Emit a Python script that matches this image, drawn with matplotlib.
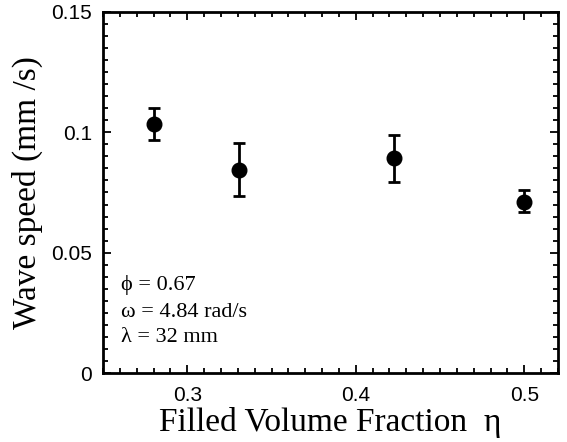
import matplotlib
matplotlib.use("Agg")
import matplotlib.pyplot as plt
from matplotlib.ticker import MultipleLocator

# filled volume fraction and measured wave speed
eta = [0.280, 0.331, 0.423, 0.500]
speed = [0.1034, 0.0843, 0.0892, 0.0712]
err_lo = [0.0066, 0.0109, 0.0100, 0.0044]
err_hi = [0.0068, 0.0114, 0.0097, 0.0048]

xticks = [0.3, 0.4, 0.5]
yticks = [0, 0.05, 0.1, 0.15]
ytick_labels = ["0", "0.05", "0.1", "0.15"]

serif = ["Liberation Serif", "DejaVu Serif"]
sans = ["Liberation Sans", "DejaVu Sans"]

fig = plt.figure(figsize=(5.67, 4.42), dpi=100)
ax = fig.add_axes([0.1817, 0.156, 0.8023, 0.817])

ax.errorbar(eta, speed, yerr=[err_lo, err_hi], fmt="o", color="black",
            ms=10.5, elinewidth=2, capsize=4.3, capthick=2)

ax.set_xlim(0.25, 0.52)
ax.set_ylim(0, 0.15)
ax.set_xticks(xticks)
ax.set_xticklabels([str(t) for t in xticks], family=sans, fontsize=15)
ax.set_yticks(yticks)
ax.set_yticklabels(ytick_labels, family=sans, fontsize=15)
ax.xaxis.set_minor_locator(MultipleLocator(0.01))
ax.yaxis.set_minor_locator(MultipleLocator(0.005))

ax.tick_params(which="both", direction="in", top=True, right=True, width=1.3)
ax.tick_params(which="major", length=6)
ax.tick_params(which="minor", length=3.8)
ax.tick_params(axis="y", which="major", pad=8)
ax.tick_params(axis="x", which="major", pad=9)
for s in ax.spines.values():
    s.set_linewidth(2)

ax.set_xlabel("Filled Volume Fraction  η", family=serif, fontsize=24, labelpad=2)
ax.set_ylabel("Wave speed (mm /s)", family=serif, fontsize=24, labelpad=5.5)

ax.text(0.04, 0.23, "ϕ = 0.67", transform=ax.transAxes, family=serif, fontsize=16)
ax.text(0.04, 0.156, "ω = 4.84 rad/s", transform=ax.transAxes, family=serif, fontsize=16)
ax.text(0.04, 0.087, "λ = 32 mm", transform=ax.transAxes, family=serif, fontsize=16)

fig.savefig("out.png", dpi=100)
